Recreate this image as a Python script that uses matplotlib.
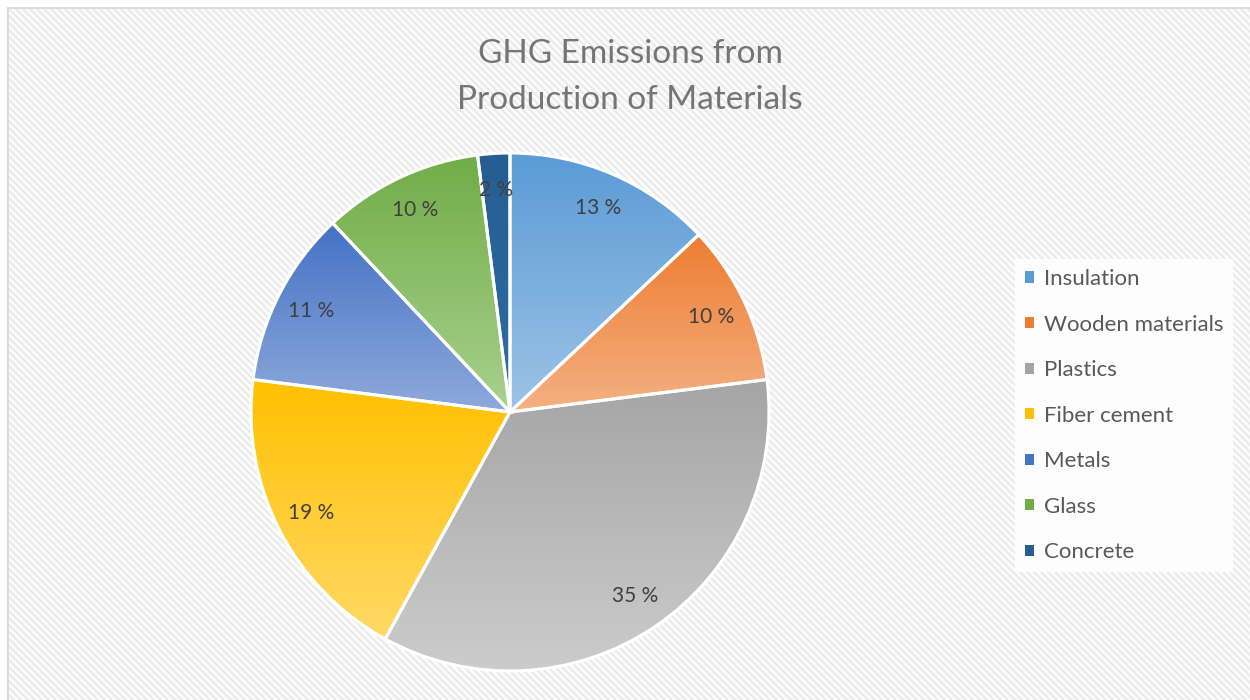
import numpy as np
import matplotlib
matplotlib.use("Agg")
import matplotlib.pyplot as plt
from matplotlib.colors import to_rgba

# Data
categories = ["Insulation", "Wooden materials", "Plastics", "Fiber cement",
              "Metals", "Glass", "Concrete"]
shares = [13, 10, 35, 19, 11, 10, 2]
top_colors = ["#5B9BD5", "#ED7D31", "#A5A5A5", "#FFC000", "#4472C4", "#70AD47", "#255E91"]
bottom_colors = ["#9DC3E6", "#F4B183", "#CCCCCC", "#FFD966", "#8FAADC", "#A9D18E", "#2E6DA4"]
title = "GHG Emissions from\nProduction of Materials"

plt.rcParams["font.family"] = ["Lato", "DejaVu Sans"]

W, H = 1250, 700
fig = plt.figure(figsize=(W / 100, H / 100), dpi=100)

# Diagonal striped background
bg = fig.add_axes([0, 0, 1, 1])
yy, xx = np.mgrid[0:H, 0:W]
phase = ((xx - yy) % 7) / 7.0
stripe = 0.5 + 0.5 * np.cos(2 * np.pi * phase)
val = 1.0 - 0.085 * stripe
img = np.dstack([val, val, val])
img[:7, :, :] = 1.0
img[:, :7, :] = 1.0
# light frame at top-left
img[7:9, 7:, :] = 0.86
img[7:, 7:9, :] = 0.86
bg.imshow(img, extent=(0, W, 0, H), origin="upper", interpolation="nearest", aspect="auto")
bg.set_xlim(0, W)
bg.set_ylim(0, H)
bg.axis("off")

# Pie axes: centre (510, 412) px, radius 259 px
cx, cy, R = 510, 412, 259
ax = fig.add_axes([(cx - R) / W, (H - cy - R) / H, 2 * R / W, 2 * R / H])
ax.set_facecolor("none")

wedges, texts, autotexts = ax.pie(
    shares, startangle=90, counterclock=False, radius=1.0,
    autopct=lambda p: f"{p:.0f} %", pctdistance=0.86,
    wedgeprops=dict(edgecolor="white", linewidth=2.2),
    textprops=dict(color="#404040", fontsize=15),
)

for w, c_top, c_bot in zip(wedges, top_colors, bottom_colors):
    verts = w.get_path().vertices
    x0, y0 = verts.min(axis=0)
    x1, y1 = verts.max(axis=0)
    t = np.linspace(0, 1, 256)[:, None]
    a = np.array(to_rgba(c_bot))
    b = np.array(to_rgba(c_top))
    grad = (a * (1 - t) + b * t)[:, None, :]
    im = ax.imshow(grad, extent=(x0, x1, y0, y1), origin="lower",
                   aspect="auto", interpolation="bilinear", zorder=1)
    im.set_clip_path(w)
    w.set_facecolor("none")
    w.set_zorder(2)

for t in autotexts:
    t.set_zorder(3)

ax.set_xlim(-1, 1)
ax.set_ylim(-1, 1)
ax.set_aspect("auto")
ax.axis("off")

fig.text(630 / W, 1 - 77 / H, title, ha="center", va="center",
         fontsize=24, color="#757575", linespacing=1.63)

# Legend
leg = fig.legend(
    [plt.Rectangle((0, 0), 1, 1, facecolor=c) for c in top_colors], categories,
    loc="upper left", bbox_to_anchor=(1015 / W, 1 - 259 / H),
    frameon=True, fontsize=16, labelcolor="#595959",
    handlelength=0.4, handleheight=0.4, handletextpad=0.45,
    labelspacing=1.15, borderpad=0.45, borderaxespad=0, fancybox=False,
)
leg.get_frame().set_facecolor("white")
leg.get_frame().set_edgecolor("none")
leg.get_frame().set_alpha(0.85)

fig.savefig("out.png", dpi=100)
